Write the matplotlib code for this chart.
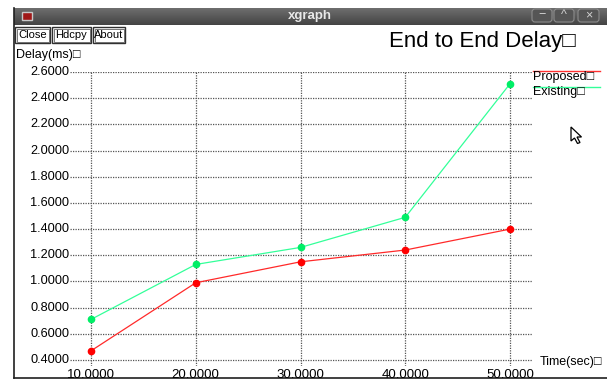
import matplotlib
matplotlib.use('Agg')
import matplotlib.pyplot as plt
import numpy as np
from matplotlib.patches import Rectangle, FancyBboxPatch, Polygon

# Delay over simulation time for the two schemes
time_sec = [10, 20, 30, 40, 50]
proposed = [0.47, 0.99, 1.15, 1.24, 1.40]
existing = [0.71, 1.13, 1.26, 1.49, 2.51]

y_ticks = [0.4, 0.6, 0.8, 1.0, 1.2, 1.4, 1.6, 1.8, 2.0, 2.2, 2.4, 2.6]
x_ticks = [10, 20, 30, 40, 50]

W, H = 607, 380
plt.rcParams['font.family'] = ['Liberation Sans', 'DejaVu Sans']

fig = plt.figure(figsize=(W / 100, H / 100), dpi=100)

# window frame, drawn in pixel coordinates
bg = fig.add_axes([0, 0, 1, 1], zorder=0)
bg.set_xlim(0, W)
bg.set_ylim(H, 0)
bg.axis('off')

# title bar with a vertical gradient
grad = np.linspace(0, 1, 64).reshape(-1, 1)
bg.imshow(grad, cmap=matplotlib.colors.LinearSegmentedColormap.from_list(
    'bar', ['#6e6e6e', '#444444']), extent=(14, W, 25, 8), aspect='auto', zorder=1)
bg.text(310, 16.5, 'xgraph', ha='center', va='center', fontsize=9.5,
        fontweight='bold', color='#e8e8e8', zorder=2)
bg.add_patch(Rectangle((22, 12), 10, 8, facecolor='#a01818', edgecolor='#c8c8c8', lw=1, zorder=2))
for x0, x1, sym in [(531, 553, '\u2212'), (553, 575, '^'), (577, 600, '\u00d7')]:
    bg.add_patch(FancyBboxPatch((x0 + 1, 9), x1 - x0 - 2, 13, boxstyle='round,pad=0,rounding_size=3',
                                facecolor='#555555', edgecolor='#8c8c8c', lw=0.8, zorder=2))
    bg.text((x0 + x1) / 2, 15.5, sym, ha='center', va='center', fontsize=9,
            color='#d0d0d0', zorder=3)

# window border
bg.plot([14, 14], [8, 378], color='#202020', lw=1.2, zorder=2)
bg.plot([14, W], [378, 378], color='#202020', lw=1.2, zorder=2)

# command buttons
for x0, x1, label in [(15, 50, 'Close'), (52, 91, 'Hdcpy'), (93, 125, 'About')]:
    bg.add_patch(Rectangle((x0, 27), x1 - x0, 16, facecolor='white', edgecolor='#303030', lw=1, zorder=2))
    bg.add_patch(Rectangle((x0 + 1.5, 28.5), x1 - x0 - 3, 13, facecolor='none', edgecolor='#606060', lw=0.6, zorder=2))
    bg.text((x0 + x1) / 2, 35.5, label, ha='center', va='center', fontsize=8, color='black', zorder=3)

bg.text(389, 42, 'End to End Delay\u25a1', ha='left', va='center', fontsize=16, color='black')
bg.text(16, 55, 'Delay(ms)\u25a1', ha='left', va='center', fontsize=9, color='black')
bg.text(540, 362, 'Time(sec)\u25a1', ha='left', va='center', fontsize=9, color='black')

# legend
bg.plot([533, 600], [71, 71], color='#ff3030', lw=1)
bg.text(533, 77, 'Proposed\u25a1', ha='left', va='center', fontsize=9, color='black')
bg.plot([533, 600], [86.5, 86.5], color='#33ff99', lw=1)
bg.text(533, 92.5, 'Existing\u25a1', ha='left', va='center', fontsize=9, color='black')

# mouse pointer
bg.add_patch(Polygon([(571, 127), (571, 141), (574.5, 138), (577.5, 143.5), (580, 142.5),
                      (577, 137), (581.5, 137)], closed=True, facecolor='white',
                     edgecolor='black', lw=0.9, zorder=5))

# plot area: pixels x 70..532, y 72..366
px_l, px_r, px_t, px_b = 70, 532, 72, 366
ax = fig.add_axes([px_l / W, 1 - px_b / H, (px_r - px_l) / W, (px_b - px_t) / H], zorder=1)
ax.patch.set_alpha(0)
ax.set_xlim(10 - (91 - px_l) / 10.475, 50 + (px_r - 510) / 10.475)
ax.set_ylim(0.4 - (px_b - 360) / 130.9, 2.6)
for s in ax.spines.values():
    s.set_visible(False)
ax.set_xticks([])
ax.set_yticks([])

for v in y_ticks:
    ax.axhline(v, color='#555555', lw=0.9, ls=(0, (1, 1)), zorder=1)
    ax.text(-0.002, v, '%.4f' % v, transform=ax.get_yaxis_transform(),
            ha='right', va='center', fontsize=9.2, color='black')
for v in x_ticks:
    ax.axvline(v, color='#555555', lw=0.9, ls=(0, (1, 1)), zorder=1)
    ax.text(v, -0.01, '%.4f' % v, transform=ax.get_xaxis_transform(),
            ha='center', va='top', fontsize=9.5, color='black')

ax.plot(time_sec, proposed, color='#ff2a2a', lw=0.9, marker='o', ms=4.5,
        markerfacecolor='#ff0000', markeredgecolor='#ff0000', zorder=3)
ax.plot(time_sec, existing, color='#33ff99', lw=0.9, marker='o', ms=4.5,
        markerfacecolor='#00ee66', markeredgecolor='#00ee66', zorder=3)

fig.savefig('out.png', dpi=100)
